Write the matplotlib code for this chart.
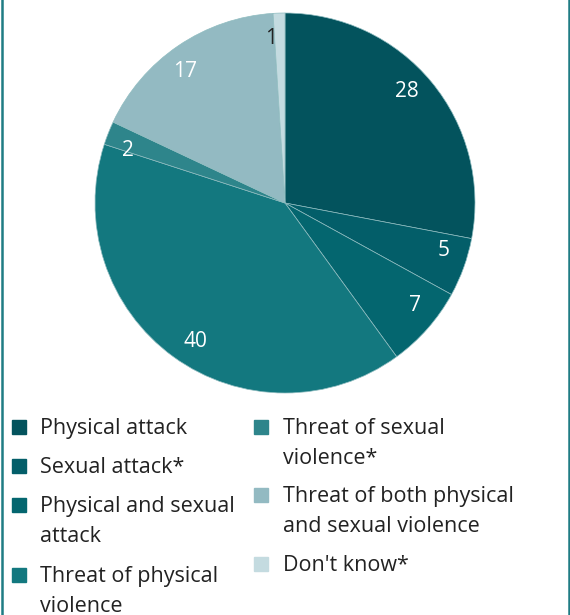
"""Pie chart of incident types with a two-column wrapped legend."""

import numpy as np
import matplotlib

matplotlib.use("Agg")
import matplotlib.pyplot as plt  # noqa: E402
from matplotlib.patches import Rectangle  # noqa: E402
from matplotlib.lines import Line2D  # noqa: E402

plt.rcParams["font.family"] = ["Open Sans", "DejaVu Sans"]

# data, clockwise from 12 o'clock
categories = [
    "Physical attack",
    "Sexual attack*",
    "Physical and sexual\nattack",
    "Threat of physical\nviolence",
    "Threat of sexual\nviolence*",
    "Threat of both physical\nand sexual violence",
    "Don't know*",
]
values = [28, 5, 7, 40, 2, 17, 1]
colors = ["#03535D", "#035E69", "#04666F", "#13787F", "#2E858B", "#93BAC2", "#C4DBE0"]
label_colors = ["white"] * 6 + ["#222222"]

TEXT = "#222222"
FRAME = "#1f7c84"

W, H = 570, 615
fig = plt.figure(figsize=(W / 100, H / 100), dpi=100)

# pie: centre (285, 203), radius 190 px
ax = fig.add_axes([95 / W, 1 - 393 / H, 380 / W, 380 / H])
wedges, _ = ax.pie(
    values,
    colors=colors,
    startangle=90,
    counterclock=False,
    radius=1.0,
    wedgeprops={"linewidth": 0.5, "edgecolor": "#8fbcc0"},
)
ax.set_xlim(-1, 1)
ax.set_ylim(-1, 1)
ax.set_aspect("equal")
ax.axis("off")

# value labels sit a little behind the wedge middle (clockwise), as in the original
for w, v, c in zip(wedges, values, label_colors):
    mid = np.deg2rad((w.theta1 + w.theta2) / 2 + 3)
    r = 0.87
    ax.text(r * np.cos(mid), r * np.sin(mid), str(v), color=c,
            fontsize=15, ha="center", va="center")

# legend, drawn by hand so swatches line up with the first text line
col_x = [12, 254]
text_x = [40, 283]
rows = [
    (0, 420), (0, 459), (0, 498), (0, 568),
    (1, 420), (1, 488), (1, 557),
]
for (col, top), label, color in zip(rows, categories, colors):
    fig.patches.append(Rectangle((col_x[col] / W, 1 - (top + 14) / H), 14 / W, 14 / H,
                                 transform=fig.transFigure, color=color))
    lines = label.split("\n")
    for i, line in enumerate(lines):
        fig.text(text_x[col] / W, 1 - (top + 14 + 30 * i) / H, line, color=TEXT,
                 fontsize=15.5, ha="left", va="baseline")

# side rules of the frame
for x in (1.5, 568.5):
    fig.add_artist(Line2D([x / W, x / W], [0, 1], color=FRAME, lw=1.8,
                          transform=fig.transFigure))

fig.savefig("out.png", dpi=100)
